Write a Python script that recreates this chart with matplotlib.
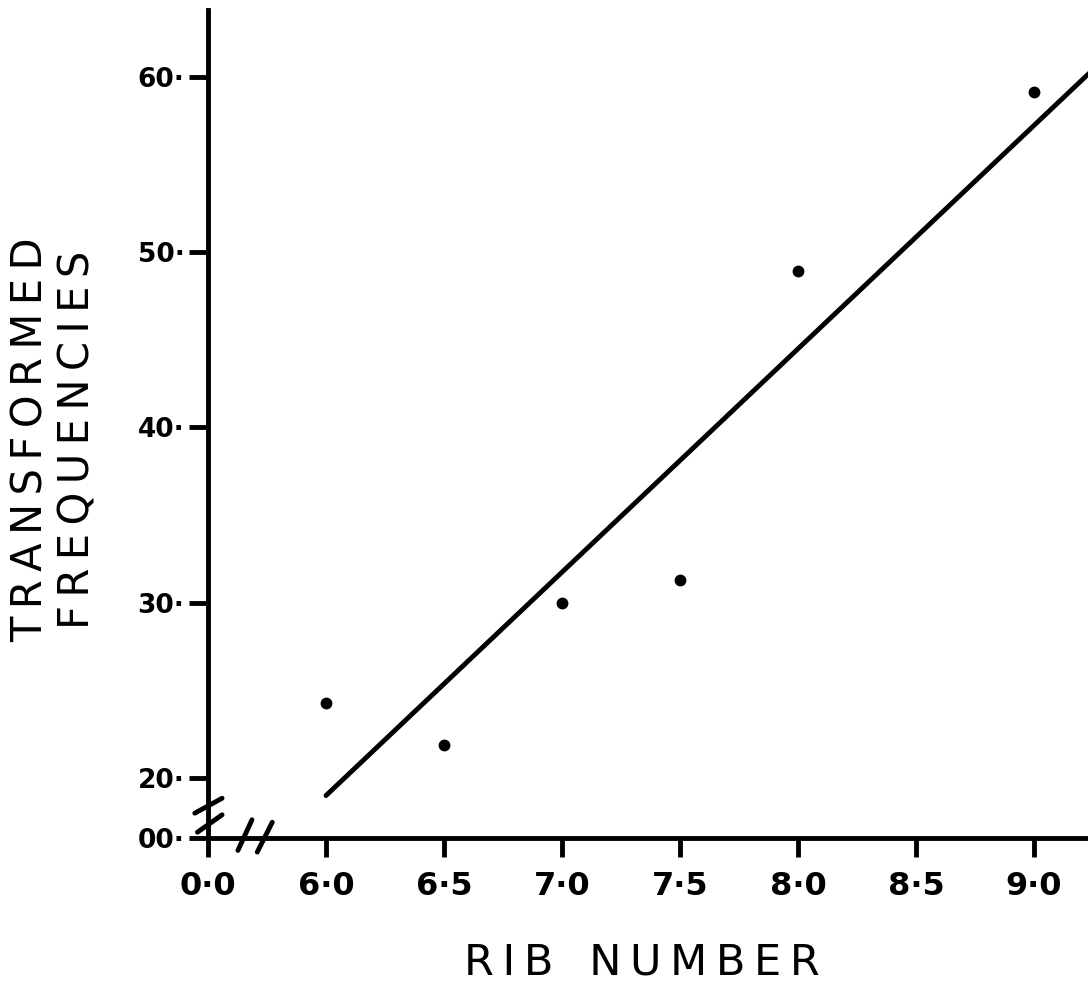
import matplotlib.pyplot as plt

# data
rib_number = [6.0, 6.5, 7.0, 7.5, 8.0, 9.0]
transformed_freq = [24.3, 21.9, 30.0, 31.3, 48.9, 59.1]

# fitted line, endpoints
fit_x = [6.0, 9.25]
fit_y = [19.0, 60.4]

# broken axes: "0" sits where these positions are drawn
x_zero_pos = 5.5
y_zero_pos = 16.58

x_ticks = [x_zero_pos, 6.0, 6.5, 7.0, 7.5, 8.0, 8.5, 9.0]
x_tick_labels = ["0·0", "6·0", "6·5", "7·0", "7·5", "8·0", "8·5", "9·0"]
y_ticks = [y_zero_pos, 20, 30, 40, 50, 60]
y_tick_labels = ["00·", "20·", "30·", "40·", "50·", "60·"]


def spaced(text, sep="\u2009"):
  return sep.join(text)


W, H = 1088, 988
fig = plt.figure(figsize=(W / 100, H / 100), dpi=100)
ax = fig.add_axes([208 / W, 150 / H, 880 / W, 828 / H])

ax.plot(fit_x, fit_y, color="black", lw=3.5, solid_capstyle="round")
ax.plot(rib_number, transformed_freq, "o", color="black", ms=7.5)

ax.set_xlim(x_zero_pos, 9.229)
ax.set_ylim(y_zero_pos, 63.8)

for side in ["top", "right"]:
  ax.spines[side].set_visible(False)
for side in ["left", "bottom"]:
  ax.spines[side].set_linewidth(3.5)

ax.set_xticks(x_ticks)
ax.set_xticklabels(x_tick_labels, fontsize=23, fontweight="bold")
ax.set_yticks(y_ticks)
ax.set_yticklabels(y_tick_labels, fontsize=19, fontweight="bold")
ax.tick_params(axis="x", direction="out", length=14, width=3.5, pad=10)
ax.tick_params(axis="y", direction="out", length=14, width=3.5, pad=3)

# axis break marks
kw = dict(transform=ax.transAxes, color="black", lw=3.5, clip_on=False,
          solid_capstyle="round")
ax.plot([-0.015, 0.016], [0.030, 0.048], **kw)
ax.plot([-0.012, 0.016], [0.007, 0.028], **kw)
ax.plot([0.034, 0.050], [-0.015, 0.022], **kw)
ax.plot([0.056, 0.073], [-0.017, 0.019], **kw)

fig.text(642 / W, 1 - 962 / H, spaced("RIB") + "\u2009  " + spaced("NUMBER"),
         fontsize=31, ha="center", va="center")
fig.text(54 / W, 1 - 440 / H,
         spaced("TRANSFORMED") + "\n" + spaced("FREQUENCIES"),
         fontsize=30, rotation=90, ha="center", va="center",
         multialignment="center", linespacing=1.15)

fig.savefig("out.png", dpi=100)
